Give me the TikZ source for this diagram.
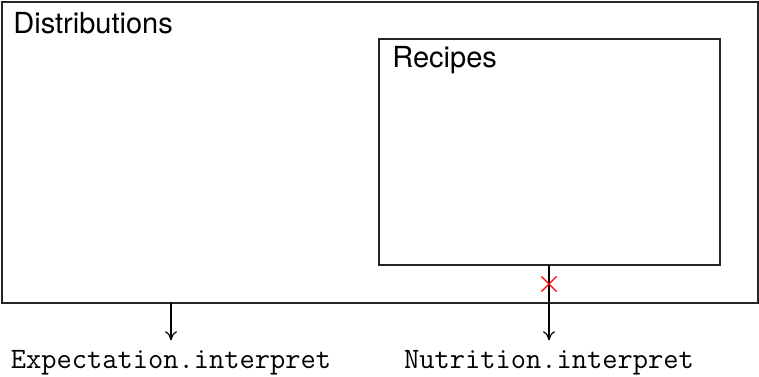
\documentclass[tikz,border=0pt]{standalone}
\usepackage{fontspec}
\setsansfont{TeX Gyre Heros}
\usetikzlibrary{arrows.meta,shapes.misc}
\begin{document}
\begin{tikzpicture}[x=0.5pt,y=-0.5pt,
  box/.style={draw=black!85,line width=1pt,anchor=north west,inner sep=0pt,outer sep=0pt},
  title/.style={anchor=base west,inner sep=0pt,font=\sffamily\fontsize{14.5}{17}\selectfont},
  fn/.style={anchor=base,inner xsep=0pt,inner ysep=4.8pt,outer sep=0pt,font=\ttfamily\fontsize{14.8}{17}\selectfont},
  arr/.style={line width=0.6pt,-{To[length=4.5pt,width=6pt]}},
  xmark/.style={cross out,draw=red,line width=0.6pt,minimum size=7pt,inner sep=0pt}]
\useasboundingbox (0,0) rectangle (759,376);
\node[box,minimum width=378pt,minimum height=150.5pt] (outer) at (1.5,1.5) {};
\node[box,minimum width=170.5pt,minimum height=113pt] (inner) at (379,39.3) {};
\node[title] (dist) at (13,33.5) {Distributions};
\node[title] (rec) at (392,67) {Recipes};
\node[fn] (exp) at (171,368) {Expectation.interpret};
\node[fn] (nut) at (549,368) {Nutrition.interpret};
\draw[arr] (outer.south -| exp.base) -- (exp.north);
\draw[arr] (inner.south -| nut.base) -- (nut.north);
\node[xmark] (x) at (549,284) {};
\end{tikzpicture}
\end{document}
